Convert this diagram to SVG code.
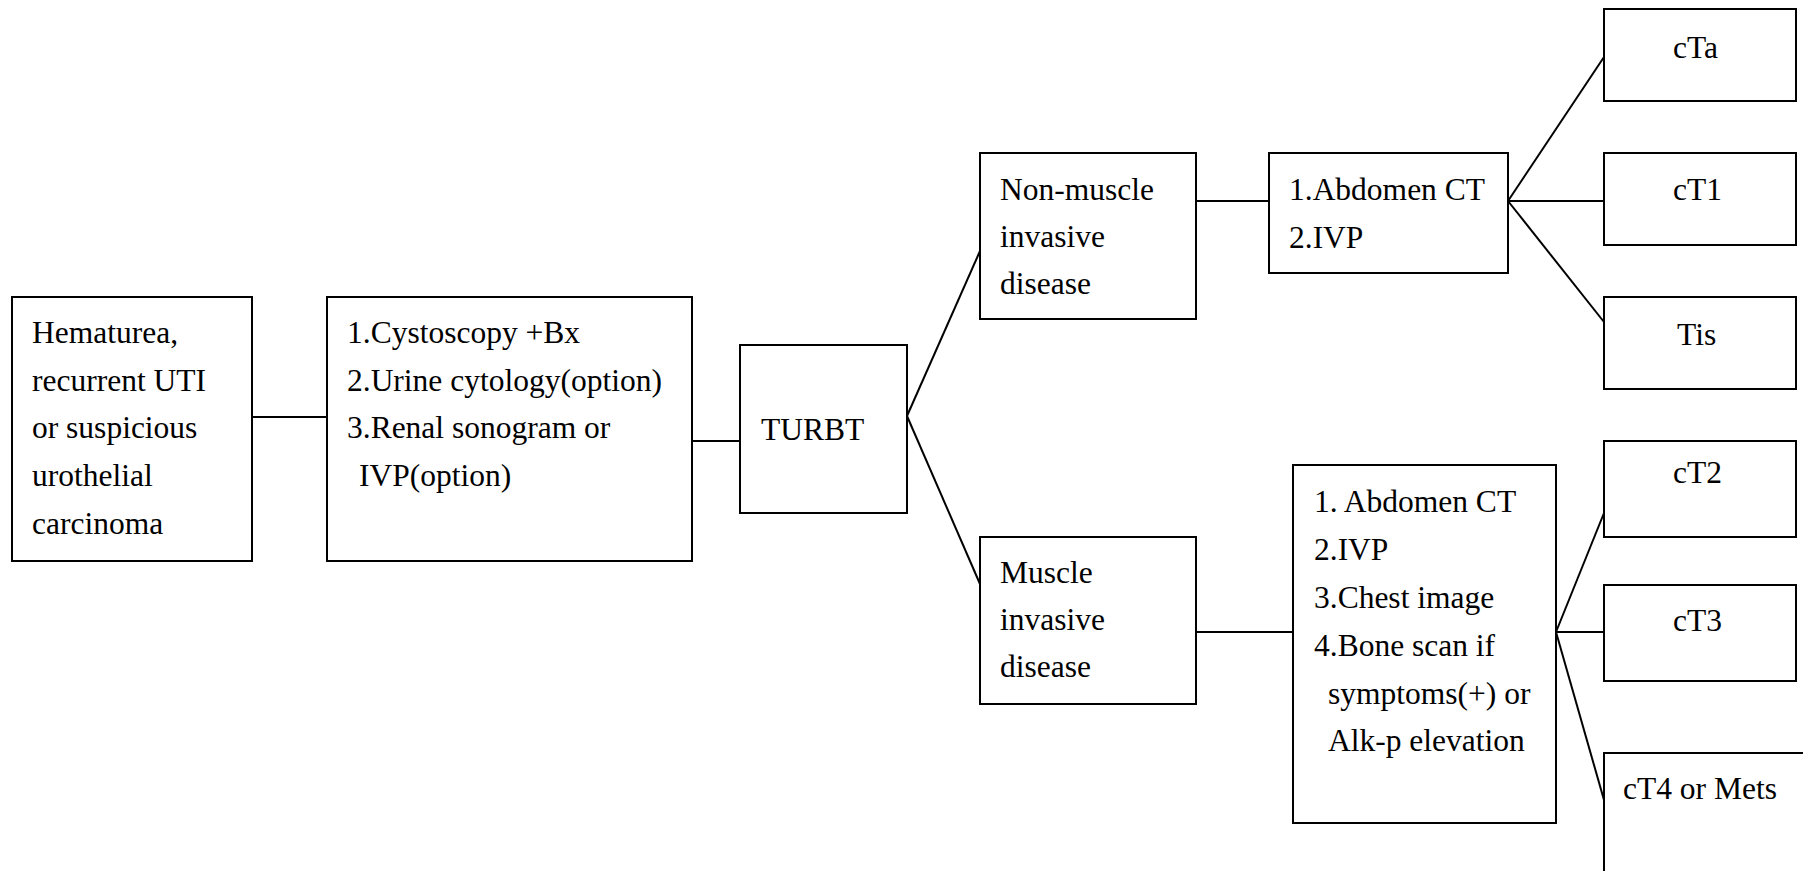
<svg xmlns="http://www.w3.org/2000/svg" width="1803" height="871" viewBox="0 0 1803 871">
<style>
  .box { fill: #ffffff; stroke: #000000; stroke-width: 2; }
  .open { fill: none; stroke: #000000; stroke-width: 2; }
  .conn line { stroke: #000000; stroke-width: 2; }
  text { font-family: 'Liberation Serif', Tinos, 'Times New Roman', Times, 'Noto Serif', 'DejaVu Serif', serif; font-size: 31.5px; fill: #000000; }
</style>
<rect width="1803" height="871" fill="#ffffff"/>
<g id="connectors" class="conn">
  <line x1="252" y1="417" x2="327" y2="417"/>
  <line x1="692" y1="441" x2="740" y2="441"/>
  <line x1="907" y1="416" x2="980" y2="251"/>
  <line x1="907" y1="416" x2="980" y2="584"/>
  <line x1="1196" y1="201" x2="1269" y2="201"/>
  <line x1="1508" y1="201" x2="1604" y2="57"/>
  <line x1="1508" y1="201" x2="1604" y2="201"/>
  <line x1="1508" y1="201" x2="1604" y2="322"/>
  <line x1="1196" y1="632" x2="1293" y2="632"/>
  <line x1="1556" y1="632" x2="1604" y2="513"/>
  <line x1="1556" y1="632" x2="1604" y2="632"/>
  <line x1="1556" y1="632" x2="1604" y2="800"/>
</g>
<g id="n-hematurea">
  <rect class="box" x="12" y="297" width="240" height="264"/>
  <text x="32" y="343">Hematurea,</text>
  <text x="32" y="391">recurrent UTI</text>
  <text x="32" y="438">or suspicious</text>
  <text x="32" y="486">urothelial</text>
  <text x="32" y="534">carcinoma</text>
</g>
<g id="n-workup">
  <rect class="box" x="327" y="297" width="365" height="264"/>
  <text x="347" y="343">1.Cystoscopy +Bx</text>
  <text x="347" y="391">2.Urine cytology(option)</text>
  <text x="347" y="438">3.Renal sonogram or</text>
  <text x="359" y="486">IVP(option)</text>
</g>
<g id="n-turbt">
  <rect class="box" x="740" y="345" width="167" height="168"/>
  <text x="761" y="440">TURBT</text>
</g>
<g id="n-nmibc">
  <rect class="box" x="980" y="153" width="216" height="166"/>
  <text x="1000" y="200">Non-muscle</text>
  <text x="1000" y="247">invasive</text>
  <text x="1000" y="294">disease</text>
</g>
<g id="n-mibc">
  <rect class="box" x="980" y="537" width="216" height="167"/>
  <text x="1000" y="583">Muscle</text>
  <text x="1000" y="630">invasive</text>
  <text x="1000" y="677">disease</text>
</g>
<g id="n-img1">
  <rect class="box" x="1269" y="153" width="239" height="120"/>
  <text x="1289" y="200">1.Abdomen CT</text>
  <text x="1289" y="248">2.IVP</text>
</g>
<g id="n-img2">
  <rect class="box" x="1293" y="465" width="263" height="358"/>
  <text x="1314" y="512">1. Abdomen CT</text>
  <text x="1314" y="560">2.IVP</text>
  <text x="1314" y="608">3.Chest image</text>
  <text x="1314" y="656">4.Bone scan if</text>
  <text x="1328" y="704">symptoms(+) or</text>
  <text x="1328" y="751">Alk-p elevation</text>
</g>
<g id="n-cta">
  <rect class="box" x="1604" y="9" width="192" height="92"/>
  <text x="1673" y="58">cTa</text>
</g>
<g id="n-ct1">
  <rect class="box" x="1604" y="153" width="192" height="92"/>
  <text x="1673" y="200">cT1</text>
</g>
<g id="n-tis">
  <rect class="box" x="1604" y="297" width="192" height="92"/>
  <text x="1677" y="345">Tis</text>
</g>
<g id="n-ct2">
  <rect class="box" x="1604" y="441" width="192" height="96"/>
  <text x="1673" y="483">cT2</text>
</g>
<g id="n-ct3">
  <rect class="box" x="1604" y="585" width="192" height="96"/>
  <text x="1673" y="631">cT3</text>
</g>
<g id="n-ct4">
  <path class="open" d="M1604,871 V753 H1803"/>
  <text x="1623" y="799">cT4 or Mets</text>
</g>
</svg>
